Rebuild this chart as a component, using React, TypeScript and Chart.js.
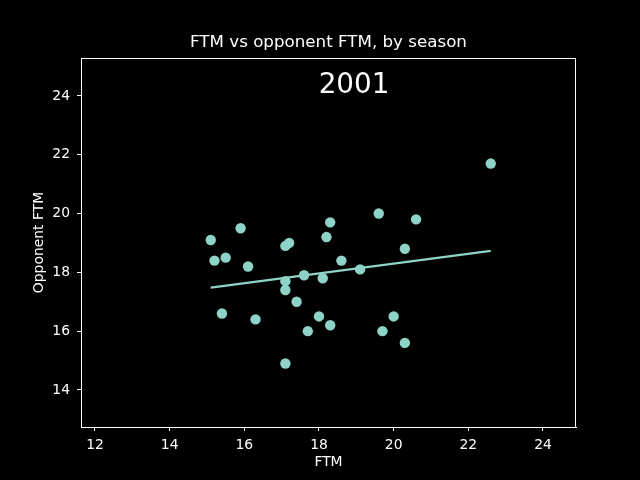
import React, { useEffect, useRef } from "react";
import { Chart, registerables } from "chart.js";

Chart.register(...registerables);

const ftm = [15.1, 15.2, 15.4, 15.5, 15.9, 16.1, 16.3, 17.1, 17.1, 17.1, 17.1, 17.2, 17.4, 17.6, 17.7, 18.0, 18.1, 18.2, 18.3, 18.3, 18.6, 19.1, 19.6, 19.7, 20.0, 20.3, 20.3, 20.6, 22.6];
const oppFtm = [19.1, 18.4, 16.6, 18.5, 19.5, 18.2, 16.4, 14.9, 17.7, 17.4, 18.9, 19.0, 17.0, 17.9, 16.0, 16.5, 17.8, 19.2, 19.7, 16.2, 18.4, 18.1, 20.0, 16.0, 16.5, 18.8, 15.6, 19.8, 21.7];
const fitX = [15.1, 22.6];
const fitY = [17.48, 18.73];
const xTicks = [12, 14, 16, 18, 20, 22, 24];
const yTicks = [14, 16, 18, 20, 22, 24];
const titleText = "FTM vs opponent FTM, by season";
const seasonLabel = "2001";
const xLabel = "FTM";
const yLabel = "Opponent FTM";

const COLOR = "#8dd3c7";
const FONT = "'DejaVu Sans', sans-serif";

export default function App() {
  const ref = useRef<HTMLCanvasElement | null>(null);
  useEffect(() => {
    if (!ref.current) return;
    const decor = {
      id: "decor",
      beforeDraw(chart: any) {
        const c = chart.ctx;
        c.save();
        c.fillStyle = "#000";
        c.fillRect(0, 0, chart.width, chart.height);
        c.restore();
      },
      afterDraw(chart: any) {
        const c = chart.ctx;
        const a = chart.chartArea;
        c.save();
        c.strokeStyle = "#fff";
        c.lineWidth = 1;
        c.beginPath();
        c.moveTo(a.left, a.top + 0.5);
        c.lineTo(a.right, a.top + 0.5);
        c.moveTo(a.right - 0.5, a.top);
        c.lineTo(a.right - 0.5, a.bottom);
        c.stroke();
        c.fillStyle = "#fff";
        c.textAlign = "center";
        c.textBaseline = "middle";
        const cx = (a.left + a.right) / 2;
        c.font = `16.7px ${FONT}`;
        c.fillText(titleText, cx, 43);
        c.font = `13.9px ${FONT}`;
        c.fillText(xLabel, cx, 462);
        c.save();
        c.translate(39, (a.top + a.bottom) / 2);
        c.rotate(-Math.PI / 2);
        c.fillText(yLabel, 0, 0);
        c.restore();
        c.font = `27.8px ${FONT}`;
        c.fillText(seasonLabel, 354, 86);
        c.restore();
      },
    };
    const chart = new Chart(ref.current, {
      type: "scatter",
      data: {
        datasets: [
          {
            type: "line",
            data: fitX.map((x, i) => ({ x, y: fitY[i] })),
            borderColor: COLOR,
            borderWidth: 2.2,
            pointRadius: 0,
            fill: false,
          } as any,
          {
            data: ftm.map((x, i) => ({ x, y: oppFtm[i] })),
            backgroundColor: COLOR,
            borderWidth: 0,
            pointRadius: 5.2,
          },
        ],
      },
      plugins: [decor],
      options: {
        responsive: false,
        animation: false,
        devicePixelRatio: 1,
        layout: { padding: { left: 0, right: 64, top: 58, bottom: 0 } },
        plugins: { legend: { display: false }, tooltip: { enabled: false }, title: { display: false } },
        scales: {
          x: {
            type: "linear",
            min: 11.625,
            max: 24.884,
            afterFit: (s: any) => { s.height = 53; },
            afterBuildTicks: (s: any) => { s.ticks = xTicks.map((v) => ({ value: v })); },
            ticks: { color: "#fff", font: { family: FONT, size: 13.9 }, padding: 6, maxRotation: 0, autoSkip: false },
            grid: { drawOnChartArea: false, drawTicks: true, tickLength: 4, color: "#fff" },
            border: { display: true, color: "#fff" },
          },
          y: {
            type: "linear",
            min: 12.74,
            max: 25.29,
            afterFit: (s: any) => { s.width = 81; },
            afterBuildTicks: (s: any) => { s.ticks = yTicks.map((v) => ({ value: v })); },
            ticks: { color: "#fff", font: { family: FONT, size: 13.9 }, padding: 7, autoSkip: false },
            grid: { drawOnChartArea: false, drawTicks: true, tickLength: 4, color: "#fff" },
            border: { display: true, color: "#fff" },
          },
        },
      } as any,
    });
    return () => chart.destroy();
  }, []);
  return (
    <div style={{ position: "fixed", left: 0, top: 0, width: 640, height: 480, background: "#000" }}>
      <canvas ref={ref} width={640} height={480} style={{ display: "block" }} />
    </div>
  );
}
